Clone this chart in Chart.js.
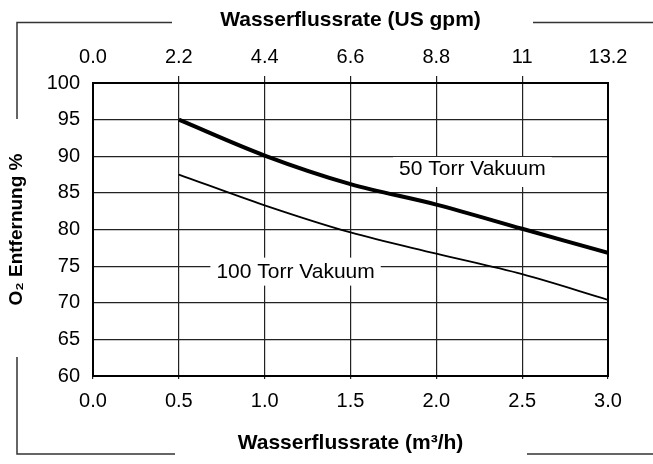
<!DOCTYPE html>
<html>
<head>
<meta charset="utf-8">
<script src="https://cdn.jsdelivr.net/npm/chart.js@4/dist/chart.umd.min.js"></script>
<style>
html,body{margin:0;padding:0;background:#fff;}
#wrap{width:653px;height:464px;}
</style>
</head>
<body>
<div id="wrap"><canvas id="c" width="653" height="464"></canvas></div>
<script>
// Data
const flowM3h = [0.5, 1.0, 1.5, 2.0, 2.5, 3.0];
const torr50 = [95.0, 90.1, 86.2, 83.4, 80.1, 76.8];
const torr100 = [87.5, 83.3, 79.6, 76.7, 73.9, 70.4];
const bottomTicks = [0.0, 0.5, 1.0, 1.5, 2.0, 2.5, 3.0];
const topTicks = [0.0, 2.2, 4.4, 6.6, 8.8, 11, 13.2];
const topTickLabels = ['0.0', '2.2', '4.4', '6.6', '8.8', '11', '13.2'];
const yTicks = [60, 65, 70, 75, 80, 85, 90, 95, 100];
const seriesNames = ['50 Torr Vakuum', '100 Torr Vakuum'];
const labelX = [2.21, 1.18];
const labelY = [88.4, 74.25];

const toPts = (xs, ys) => xs.map((x, i) => ({x: x, y: ys[i]}));

const FONT = "'Liberation Sans', Arial, Helvetica, sans-serif";
const boxAbove = [11, 14];
const boxBelow = [19, 14];

const decor = {
  id: 'decor',
  beforeDatasetsDraw(chart) {
    const ctx = chart.ctx;
    const xs = chart.scales.x, ys = chart.scales.y;
    ctx.save();
    ctx.font = '21px ' + FONT;
    ctx.textAlign = 'center';
    ctx.textBaseline = 'middle';
    seriesNames.forEach((t, i) => {
      const px = xs.getPixelForValue(labelX[i]);
      const py = ys.getPixelForValue(labelY[i]);
      const w = ctx.measureText(t).width + 12;
      ctx.fillStyle = '#fff';
      ctx.fillRect(px - w / 2, py - boxAbove[i], w, boxAbove[i] + boxBelow[i]);
      ctx.fillStyle = '#000';
      ctx.fillText(t, px, py + 1);
    });
    ctx.restore();
  },
  afterDraw(chart) {
    const ctx = chart.ctx;
    const a = chart.chartArea;
    ctx.save();
    ctx.strokeStyle = '#000';
    ctx.lineWidth = 2;
    ctx.strokeRect(a.left, a.top, a.right - a.left, a.bottom - a.top);
    // outer frame fragments
    ctx.strokeStyle = '#333';
    ctx.lineWidth = 1.5;
    ctx.beginPath();
    ctx.moveTo(172, 22.5); ctx.lineTo(17, 22.5); ctx.lineTo(17, 119);
    ctx.moveTo(533, 22.5); ctx.lineTo(653, 22.5);
    ctx.moveTo(17, 357); ctx.lineTo(17, 454); ctx.lineTo(175, 454);
    ctx.moveTo(527, 454); ctx.lineTo(653, 454);
    ctx.stroke();
    ctx.restore();
  }
};

new Chart(document.getElementById('c'), {
  type: 'line',
  data: {
    datasets: [
      {label: seriesNames[0], data: toPts(flowM3h, torr50), borderColor: '#000', borderWidth: 4,
       pointRadius: 0, cubicInterpolationMode: 'monotone', fill: false, xAxisID: 'x', yAxisID: 'y'},
      {label: seriesNames[1], data: toPts(flowM3h, torr100), borderColor: '#000', borderWidth: 1.8,
       pointRadius: 0, cubicInterpolationMode: 'monotone', fill: false, xAxisID: 'x', yAxisID: 'y'}
    ]
  },
  options: {
    responsive: false,
    animation: false,
    devicePixelRatio: 1,
    layout: {padding: {left: 0, right: 45, top: 0, bottom: 0}},
    plugins: {legend: {display: false}, tooltip: {enabled: false}},
    scales: {
      x: {
        type: 'linear', position: 'bottom', min: 0, max: 3,
        afterBuildTicks: s => { s.ticks = bottomTicks.map(v => ({value: v})); },
        afterFit: s => { s.height = 88; },
        border: {display: false},
        grid: {color: '#222', lineWidth: 1.2, drawTicks: true, tickLength: 3},
        ticks: {color: '#000', font: {family: FONT, size: 20}, padding: 10, maxRotation: 0,
                callback: v => Number(v).toFixed(1)},
        title: {display: true, text: 'Wasserflussrate (m³/h)', color: '#000',
                font: {family: FONT, size: 21, weight: 'bold'}, padding: {top: 0, bottom: 8}}
      },
      x2: {
        type: 'linear', position: 'top', min: 0, max: 13.2,
        afterBuildTicks: s => { s.ticks = topTicks.map(v => ({value: v})); },
        afterFit: s => { s.height = 83; },
        border: {display: false},
        grid: {drawOnChartArea: false, drawTicks: true, tickLength: 7, lineWidth: 1.2,
               color: c => (c.index === 0 || c.index === topTicks.length - 1) ? 'rgba(0,0,0,0)' : '#222'},
        ticks: {color: '#000', font: {family: FONT, size: 20}, padding: 7, maxRotation: 0,
                callback: (v, i) => topTickLabels[i]},
        title: {display: true, text: 'Wasserflussrate (US gpm)', color: '#000',
                font: {family: FONT, size: 21, weight: 'bold'}, padding: {top: 8, bottom: 0}}
      },
      y: {
        type: 'linear', position: 'left', min: 60, max: 100,
        afterBuildTicks: s => { s.ticks = yTicks.map(v => ({value: v})); },
        afterFit: s => { s.width = 93; },
        border: {display: false},
        grid: {color: '#222', lineWidth: 1.2, drawTicks: false},
        ticks: {color: '#000', font: {family: FONT, size: 20}, padding: 13},
        title: {display: true, text: 'O₂ Entfernung %', color: '#000',
                font: {family: FONT, size: 19, weight: 'bold'}, padding: {top: 5, bottom: 0}}
      }
    }
  },
  plugins: [decor]
});
</script>
</body>
</html>
